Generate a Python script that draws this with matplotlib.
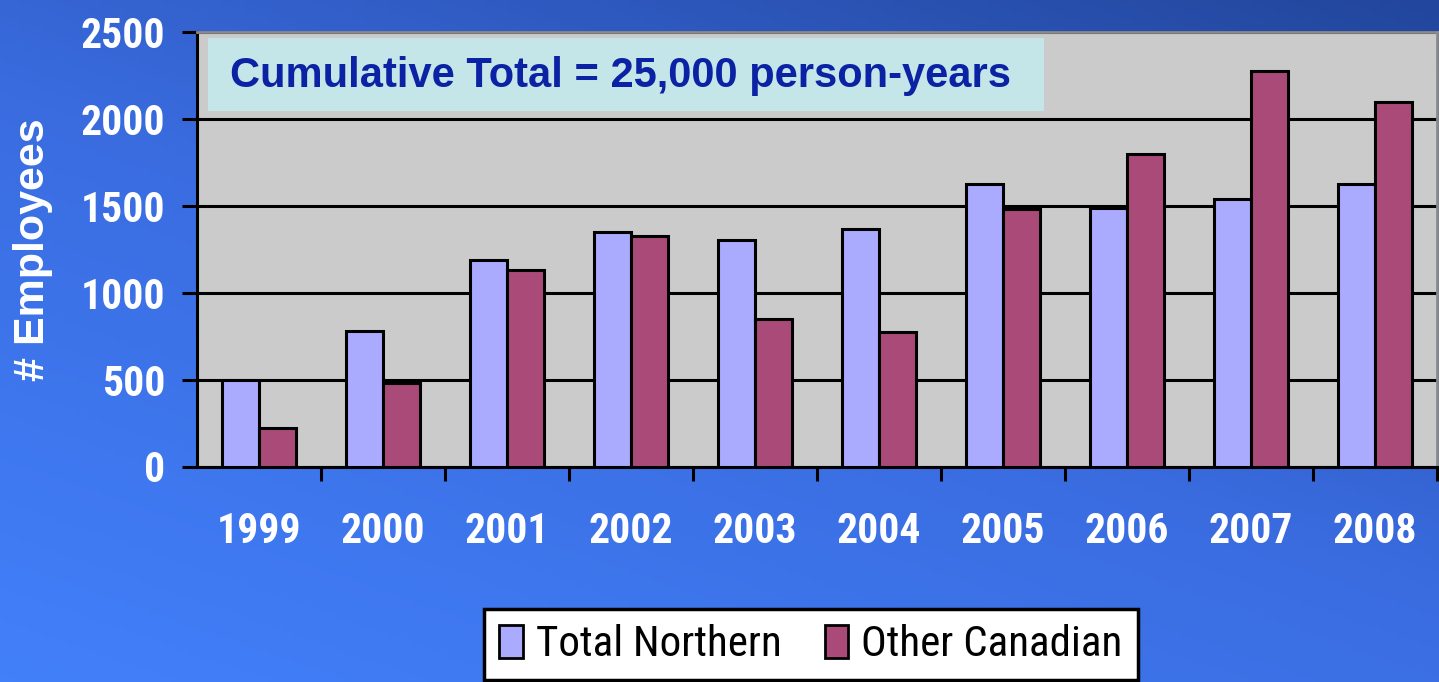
import matplotlib.pyplot as plt
import numpy as np
from matplotlib.colors import LinearSegmentedColormap
from matplotlib.patches import Rectangle, Patch

years = ['1999', '2000', '2001', '2002', '2003', '2004', '2005', '2006', '2007', '2008']
northern = [500, 777, 1190, 1348, 1305, 1365, 1623, 1487, 1540, 1623]
other = [220, 480, 1130, 1325, 851, 773, 1483, 1800, 2276, 2095]
y_ticks = [0, 500, 1000, 1500, 2000, 2500]
note = 'Cumulative Total = 25,000 person-years'

NARROW = ['Roboto Condensed', 'Asap Condensed', 'Liberation Sans', 'DejaVu Sans']
SANS = ['Liberation Sans', 'Arimo', 'DejaVu Sans']

fig = plt.figure(figsize=(14.39, 6.82), dpi=100)

# blue gradient background, light bottom-left to dark top-right
bg = fig.add_axes([0, 0, 1, 1], zorder=-5)
gx, gy = np.meshgrid(np.linspace(0, 1, 300), np.linspace(0, 1, 150))
grad = np.clip(0.55 * gx + 0.75 * (1 - gy), 0, 1.3) / 1.3
cmap = LinearSegmentedColormap.from_list('bg', ['#4280fa', '#3a6ce0', '#22469c'])
bg.imshow(grad, cmap=cmap, aspect='auto', extent=[0, 1, 0, 1], origin='upper')
bg.axis('off')

ax = fig.add_axes([197 / 1439, 1 - 466.5 / 682, 1240 / 1439, 434.5 / 682])
ax.set_facecolor('#cbcbcb')

x = np.arange(len(years))
w = 0.3
ax.bar(x - w / 2, northern, w, color='#aaaaff', edgecolor='black', linewidth=2.2, zorder=3,
       label='Total Northern')
ax.bar(x + w / 2, other, w, color='#aa4a78', edgecolor='black', linewidth=2.2, zorder=3,
       label='Other Canadian')

ax.set_xlim(-0.5, len(years) - 0.5)
ax.set_ylim(0, 2500)
ax.set_yticks(y_ticks)
ax.set_yticklabels([str(v) for v in y_ticks], family=NARROW, fontweight='bold', fontsize=30,
                   color='white')
ax.tick_params(axis='y', length=11, width=2.2, color='black', pad=12)
ax.yaxis.grid(True, color='black', linewidth=2.2, zorder=1)
ax.set_axisbelow(True)

ax.set_xticks(x + 0.5, minor=False)
ax.set_xticklabels([])
ax.tick_params(axis='x', which='major', length=10, width=2.2, color='black')
ax.set_xticks(x, minor=True)
ax.set_xticklabels(years, minor=True, family=NARROW, fontweight='bold', fontsize=30, color='white')
ax.tick_params(axis='x', which='minor', length=0, pad=32)

for s in ['left', 'bottom']:
    ax.spines[s].set_linewidth(2.2)
    ax.spines[s].set_color('black')
for s in ['top', 'right']:
    ax.spines[s].set_linewidth(2)
    ax.spines[s].set_color('#8a8a8a')

fig.text(33 / 1439, 1 - 250 / 682, '# Employees', family=SANS, fontweight='bold', fontsize=31,
         color='white', rotation=90, ha='center', va='center')

# note box
fig.patches.append(Rectangle((208 / 1439, 1 - 111 / 682), 836 / 1439, 73 / 682,
                             transform=fig.transFigure, facecolor='#c4e6e8', edgecolor='none',
                             zorder=4))
fig.text(230 / 1439, 1 - 76 / 682, note, family=SANS, fontweight='bold', fontsize=30,
         color='#0b22a4', va='center', ha='left', zorder=5)

handles = [Patch(facecolor='#aaaaff', edgecolor='black', linewidth=2),
           Patch(facecolor='#aa4a78', edgecolor='black', linewidth=2)]
leg = fig.legend(handles, ['Total Northern', 'Other Canadian'], loc='upper center',
                 bbox_to_anchor=(811 / 1439, 1 - 609 / 682), ncol=2, frameon=True,
                 prop={'family': NARROW, 'size': 31}, handlelength=0.55, handleheight=0.8,
                 handletextpad=0.3, columnspacing=1.0, borderpad=0.35, borderaxespad=0,
                 fancybox=False, framealpha=1)
leg.get_frame().set_edgecolor('black')
leg.get_frame().set_linewidth(2.5)
leg.get_frame().set_facecolor('white')

fig.savefig('out.png', dpi=100)
